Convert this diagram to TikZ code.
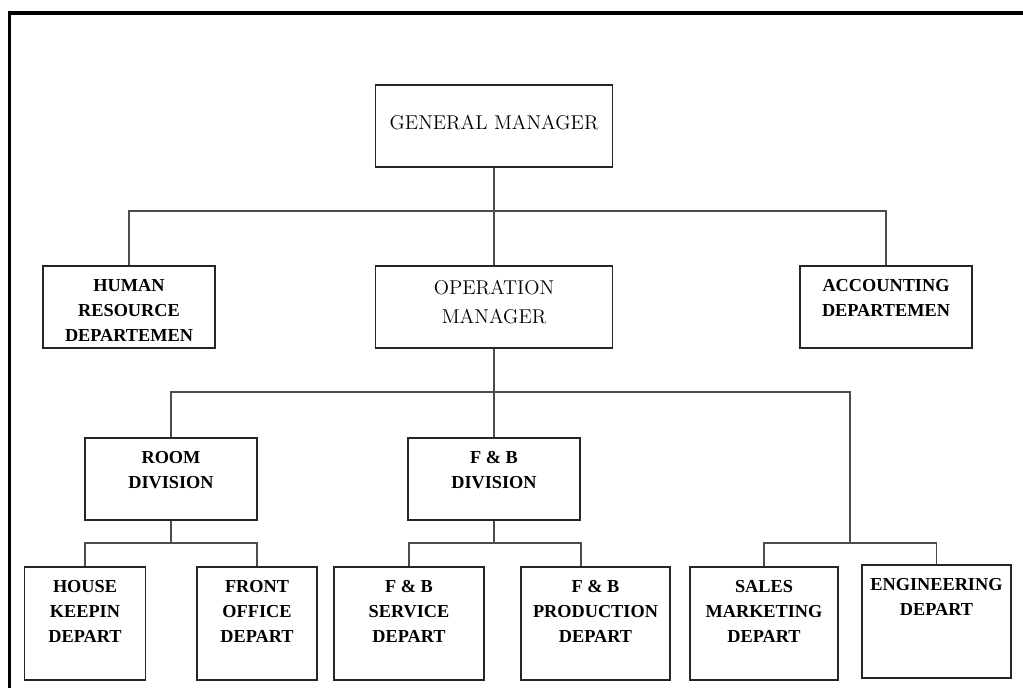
\documentclass[tikz,border=0pt]{standalone}
\usepackage{fontspec}
\newfontfamily\deptfont{Liberation Serif}
\usetikzlibrary{positioning}
\tikzset{
    chart/.style     = {x=0.025cm, y=-0.025cm},
    wire/.style      = {draw=black!70, line width=0.9pt},
    frame/.style     = {line width=2.8pt},
    unit/.style      = {draw=black!85, line width=0.9pt, fill=white,
                        minimum width=4.3cm, minimum height=2.05cm},
    wide unit/.style = {unit, minimum width=5.925cm},
    dept unit/.style = {unit, minimum height=2.825cm},
    head/.style      = {font=\fontsize{14.2}{20.5}\selectfont,
                        align=center, inner sep=0pt},
    dept/.style      = {font=\deptfont\bfseries\fontsize{13}{17.7}\selectfont,
                        align=center, inner sep=0pt}
}
\def\topgap{0.35cm}
\def\toprow{211}
\def\midrow{392}
\def\lowrow{543}

\begin{document}
\begin{tikzpicture}[chart]
\useasboundingbox (0,0) rectangle (1023,688);

% Page frame, cut off at the right and bottom.
\draw[frame] (9.5,688) -- (9.5,13) -- (1023,13);

% Top level.
\node[wide unit] (gm) at (494,126) {};
\node[head, below=0.76cm of gm.north] (gmtext) {GENERAL MANAGER};

% Second level.
\node[unit] (hr) at (129,307) {};
\node[dept, below=\topgap of hr.north] (hrtext) {HUMAN\\RESOURCE\\DEPARTEMEN};
\node[wide unit] (om) at (494,307) {};
\node[head, below=0.36cm of om.north] (omtext) {OPERATION\\MANAGER};
\node[unit] (acc) at (886,307) {};
\node[dept, below=\topgap of acc.north] (acctext) {ACCOUNTING\\DEPARTEMEN};

\coordinate (gmbus) at (494,\toprow);
\draw[wire] (gm.south) -- (gmbus);
\draw[wire] (hr.north) |- (gmbus) -| (acc.north);
\draw[wire] (gmbus) -- (om.north);

% Divisions under the operation manager.
\node[unit] (room) at (171,479) {};
\node[dept, below=\topgap of room.north] (roomtext) {ROOM\\DIVISION};
\node[unit] (fbd) at (494,479) {};
\node[dept, below=\topgap of fbd.north] (fbdtext) {F \& B\\DIVISION};

\coordinate (ombus) at (494,\midrow);
\coordinate (salesbus) at (850,\lowrow);
\draw[wire] (om.south) -- (ombus);
\draw[wire] (room.north) |- (ombus) -| (salesbus);
\draw[wire] (ombus) -- (fbd.north);

% Departments.
\node[dept unit, minimum width=3.025cm] (house) at (85,623.5) {};
\node[dept, below=\topgap of house.north] (housetext) {HOUSE\\KEEPIN\\DEPART};
\node[dept unit, minimum width=3cm] (front) at (257,623.5) {};
\node[dept, below=\topgap of front.north] (fronttext) {FRONT\\OFFICE\\DEPART};
\node[dept unit, minimum width=3.75cm] (service) at (409,623.5) {};
\node[dept, below=\topgap of service.north] (servicetext) {F \& B\\SERVICE\\DEPART};
\node[dept unit, minimum width=3.725cm] (prod) at (595.5,623.5) {};
\node[dept, below=\topgap of prod.north] (prodtext) {F \& B\\PRODUCTION\\DEPART};
\node[dept unit, minimum width=3.7cm] (sales) at (764,623.5) {};
\node[dept, below=\topgap of sales.north] (salestext) {SALES\\MARKETING\\DEPART};
\node[dept unit, minimum width=3.725cm] (eng) at (936.5,621.5) {};
\node[dept, below=\topgap of eng.north] (engtext) {ENGINEERING\\DEPART};

\coordinate (roombus) at (171,\lowrow);
\draw[wire] (room.south) -- (roombus);
\draw[wire] (house.north) |- (roombus) -| (front.north);

\coordinate (fbdbus) at (494,\lowrow);
\coordinate (fbdright) at (581,\lowrow);
\draw[wire] (fbd.south) -- (fbdbus);
\draw[wire] (service.north) |- (fbdbus) -- (fbdright) -- (fbdright |- prod.north);

\draw[wire] (sales.north) |- (salesbus) -| (eng.north);

\end{tikzpicture}
\end{document}
